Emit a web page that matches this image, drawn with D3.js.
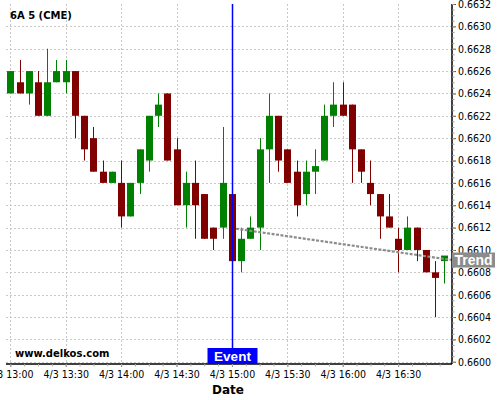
<!DOCTYPE html>
<html>
<head>
<meta charset="utf-8">
<script src="https://cdn.jsdelivr.net/npm/d3@7"></script>
<style>
  html, body { margin: 0; padding: 0; background: #ffffff; }
  svg { display: block; }
</style>
</head>
<body>
<svg id="chart" width="500" height="400"></svg>
<script>
// ---- data (5-minute bars, 4/3 13:00 .. 16:55) ----
const title = "6A 5 (CME)";
const watermark = "www.delkos.com";
const startTime = "2015-04-03T13:00:00";
const barMinutes = 5;
const opens  = [0.6624,0.6625,0.6624,0.6625,0.6622,0.6625,0.6625,0.6626,0.6622,0.6620,0.6617,0.6616,
                0.6616,0.6613,0.6616,0.6618,0.6622,0.6624,0.6619,0.6614,0.6616,0.6615,0.6612,0.6612,
                0.6615,0.6609,0.6611,0.6612,0.6619,0.6622,0.6619,0.6617,0.6615,0.66170,0.6618,0.6622,
                0.6623,0.6623,0.6619,0.6616,0.6615,0.6613,0.6611,0.6610,0.6612,0.6610,0.66080,0.66090];
const highs  = [0.6626,0.6627,0.6626,0.6626,0.6628,0.6627,0.6627,0.6626,0.6622,0.6621,0.6618,0.6617,
                0.6618,0.6616,0.6619,0.6622,0.6624,0.6624,0.6620,0.6617,0.6618,0.6615,0.6612,0.6621,
                0.6615,0.6612,0.6613,0.6620,0.6624,0.6622,0.6619,0.6618,0.6618,0.6619,0.6623,0.6625,
                0.6625,0.6623,0.6619,0.6618,0.6615,0.6615,0.6612,0.6613,0.6612,0.6610,0.6609,0.66090];
const lows   = [0.6624,0.6624,0.6623,0.6622,0.6622,0.6625,0.6624,0.6620,0.6618,0.6617,0.6616,0.6616,
                0.6612,0.6613,0.6615,0.6617,0.6621,0.6618,0.6614,0.6612,0.6611,0.6611,0.6610,0.6611,
                0.6609,0.6608,0.6611,0.6610,0.6616,0.6617,0.6616,0.6613,0.6614,0.6615,0.6618,0.6621,
                0.6622,0.6616,0.6616,0.6614,0.6611,0.6612,0.6608,0.6610,0.6609,0.6608,0.6604,0.6607];
const closes = [0.6626,0.6624,0.6626,0.6622,0.6625,0.6626,0.6626,0.6622,0.6619,0.6617,0.6616,0.6617,
                0.6613,0.6616,0.6619,0.6622,0.6623,0.6618,0.6614,0.6616,0.6614,0.6611,0.6611,0.6616,
                0.6609,0.6611,0.6612,0.6619,0.6622,0.6618,0.6616,0.6614,0.6617,0.66175,0.6622,0.6623,
                0.6622,0.6619,0.6617,0.6615,0.6613,0.6612,0.6610,0.6612,0.6610,0.6608,0.66075,0.66095];

const eventTime = "2015-04-03T15:00:00";
const eventLabel = "Event";
const trendTimes  = ["2015-04-03T15:02:10", "2015-04-03T16:59:10"];
const trendValues = [0.66119, 0.66091];
const trendLabel = "Trend";

const yTickValues = [0.6600,0.6602,0.6604,0.6606,0.6608,0.6610,0.6612,0.6614,0.6616,
                     0.6618,0.6620,0.6622,0.6624,0.6626,0.6628,0.6630,0.6632];
const xAxisTitle = "Date";
const xDomain = ["2015-04-03T12:57:40", "2015-04-03T16:59:10"];
const yDomain = [0.65998, 0.6632];

// ---- layout ----
const plotL = 6, plotR = 452, plotT = 4, plotB = 364;
const green = "#008000", red = "#800000";
const tickFont = "'DejaVu Sans Condensed', 'DejaVu Sans', sans-serif";

const svg = d3.select("#chart");
const parse = s => new Date(s);
const t0 = parse(startTime);
const bars = opens.map((o, i) => ({
  t: new Date(t0.getTime() + i * barMinutes * 60000),
  o, h: highs[i], l: lows[i], c: closes[i]
}));

const x = d3.scaleTime().domain(xDomain.map(parse)).range([plotL, plotR]);
const y = d3.scaleLinear().domain(yDomain).range([plotB, plotT]);

const majorX = d3.timeMinute.every(30).range(parse("2015-04-03T13:00:00"), x.domain()[1]);
const minorX = d3.range(0, 33).map(k => new Date(parse("2015-04-03T13:00:00").getTime() + k * 450000))
                 .filter(d => d <= x.domain()[1]);
const minorY = d3.range(0, 65).map(k => +(0.6600 + k * 0.00005).toFixed(5));

// ---- grid ----
const grid = svg.append("g").attr("stroke", "#c8c8c8").attr("stroke-width", 1)
  .attr("stroke-dasharray", "2,2").attr("shape-rendering", "crispEdges");
grid.selectAll("line.h").data(yTickValues.filter(v => y(v) > plotT + 2)).enter().append("line")
  .attr("x1", plotL).attr("x2", plotR)
  .attr("y1", d => Math.round(y(d)) + 0.5).attr("y2", d => Math.round(y(d)) + 0.5);
grid.selectAll("line.v").data(majorX).enter().append("line")
  .attr("x1", d => Math.round(x(d)) + 0.5).attr("x2", d => Math.round(x(d)) + 0.5)
  .attr("y1", plotT).attr("y2", plotB);

// ---- candles ----
const bw = 7;
const cg = svg.append("g");
const col = d => d.c >= d.o ? green : red;
cg.selectAll("line.wick").data(bars).enter().append("line")
  .attr("x1", d => Math.round(x(d.t)) + 0.5).attr("x2", d => Math.round(x(d.t)) + 0.5)
  .attr("y1", d => y(d.h)).attr("y2", d => y(d.l))
  .attr("stroke", col).attr("stroke-width", 1);
cg.selectAll("rect.body").data(bars).enter().append("rect")
  .attr("x", d => Math.round(x(d.t)) - 3)
  .attr("width", bw)
  .attr("y", d => y(Math.max(d.o, d.c)))
  .attr("height", d => Math.max(1, Math.abs(y(d.o) - y(d.c))))
  .attr("fill", col);

// ---- trend ----
const trend = trendTimes.map((t, i) => ({ t: parse(t), v: trendValues[i] }));
svg.append("path").datum(trend)
  .attr("d", d3.line().x(d => x(d.t)).y(d => y(d.v)))
  .attr("fill", "none").attr("stroke", "#8c8c8c").attr("stroke-width", 2.2)
  .attr("stroke-dasharray", "3,1.5");

// ---- event line ----
const ex = Math.round(x(parse(eventTime))) + 0.5;
svg.append("line").attr("x1", ex).attr("x2", ex).attr("y1", plotT).attr("y2", plotB)
  .attr("stroke", "#0000ff").attr("stroke-width", 1.5);

// ---- axes ----
const yAxis = svg.append("g").attr("transform", `translate(${plotR},0)`)
  .call(d3.axisRight(y).tickValues(yTickValues).tickSize(4).tickSizeOuter(0).tickPadding(2)
        .tickFormat(d3.format(".4f")));
yAxis.select(".domain").attr("stroke", "#000").attr("stroke-width", 1.5)
  .attr("d", `M0,${plotT}V${plotB}`);
yAxis.selectAll(".tick line").attr("stroke", "#555");
yAxis.selectAll("text").attr("font-family", tickFont).attr("font-size", 10.5).attr("fill", "#000");
const yMinor = svg.append("g").attr("transform", `translate(${plotR},0)`)
  .call(d3.axisRight(y).tickValues(minorY).tickSize(2.5).tickSizeOuter(0).tickFormat(""));
yMinor.select(".domain").remove();
yMinor.selectAll(".tick line").attr("stroke", "#999");

const xAxis = svg.append("g").attr("transform", `translate(0,${plotB})`)
  .call(d3.axisBottom(x).tickValues(majorX).tickSize(3).tickSizeOuter(0).tickPadding(4)
        .tickFormat(d3.timeFormat("%-m/%-d %H:%M")));
xAxis.select(".domain").attr("stroke", "#000").attr("stroke-width", 1.5)
  .attr("d", `M${plotL},0H${plotR}`);
xAxis.selectAll(".tick line").attr("stroke", "#777");
xAxis.selectAll("text").attr("font-family", tickFont).attr("font-size", 10.5).attr("fill", "#000");
const xMinor = svg.append("g").attr("transform", `translate(0,${plotB})`)
  .call(d3.axisBottom(x).tickValues(minorX).tickSize(2.5).tickSizeOuter(0).tickFormat(""));
xMinor.select(".domain").remove();
xMinor.selectAll(".tick line").attr("stroke", "#aaa");

// ---- labels ----
svg.append("text").attr("x", 228).attr("y", 394).attr("text-anchor", "middle")
  .attr("font-family", "'DejaVu Sans', sans-serif").attr("font-weight", "bold")
  .attr("font-size", 12).text(xAxisTitle);

svg.append("text").attr("x", 10).attr("y", 19)
  .attr("font-family", "'DejaVu Sans', sans-serif").attr("font-weight", "bold")
  .attr("font-size", 10).text(title);

svg.append("text").attr("x", 15).attr("y", 357)
  .attr("font-family", "'DejaVu Sans', sans-serif").attr("font-weight", "bold")
  .attr("font-size", 10).text(watermark);

// event label
svg.append("rect").attr("x", ex - 25).attr("y", 348).attr("width", 50).attr("height", 16)
  .attr("fill", "#0000ff");
svg.append("text").attr("x", ex).attr("y", 361).attr("text-anchor", "middle")
  .attr("font-family", "'Liberation Sans', Arial, sans-serif").attr("font-weight", "bold")
  .attr("font-size", 13.5).attr("fill", "#fff").text(eventLabel);

// trend label
const ty = y(trendValues[1]);
svg.append("rect").attr("x", plotR).attr("y", ty - 7.5).attr("width", 43).attr("height", 15)
  .attr("fill", "#8c8c8c");
svg.append("text").attr("x", plotR + 21.5).attr("y", ty + 5.3).attr("text-anchor", "middle")
  .attr("font-family", "'Liberation Sans', Arial, sans-serif").attr("font-weight", "bold")
  .attr("font-size", 14).attr("fill", "#fff").text(trendLabel);
</script>
</body>
</html>
